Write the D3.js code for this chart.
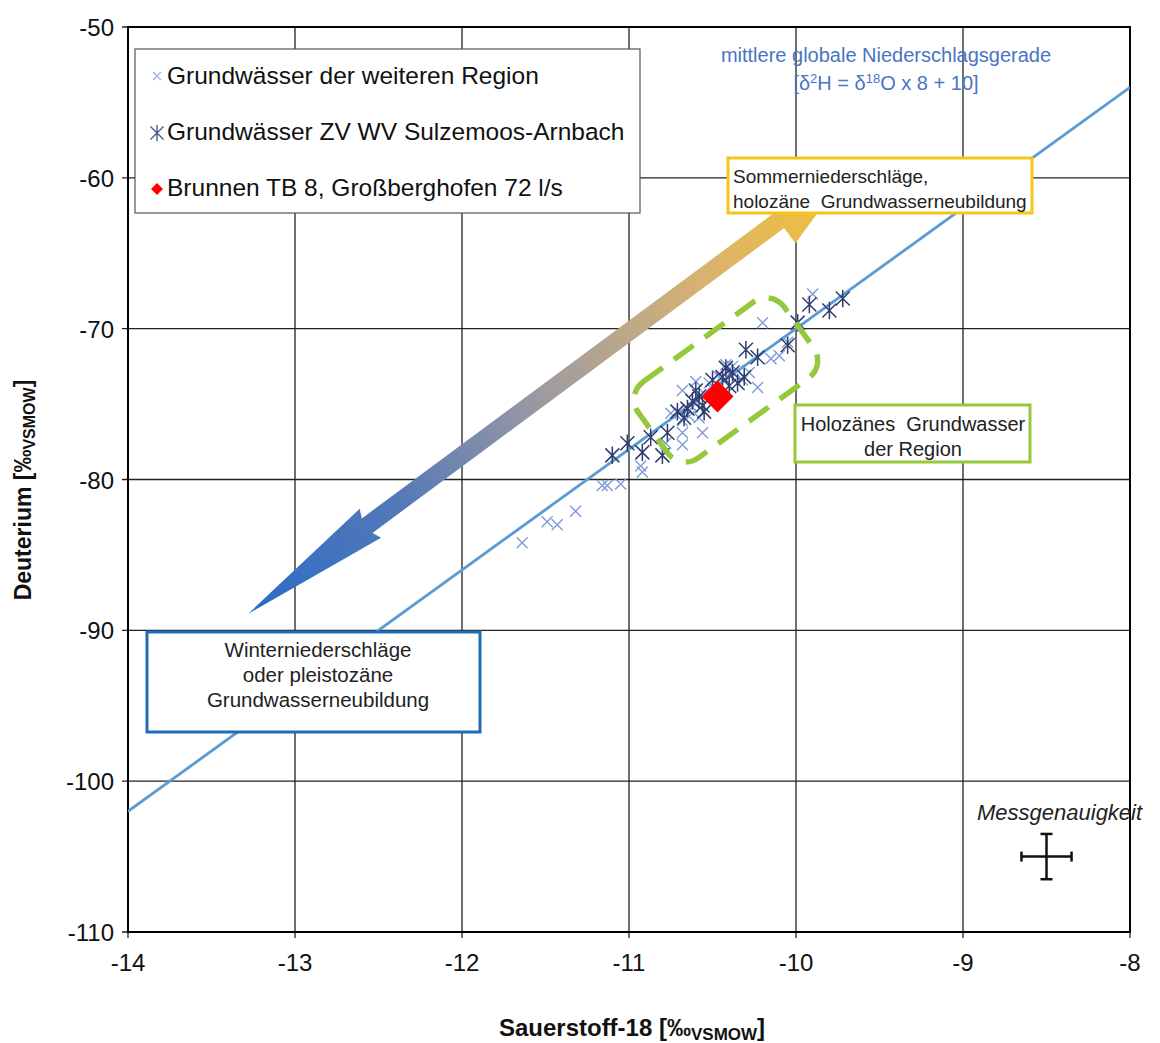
<!DOCTYPE html>
<html>
<head>
<meta charset="utf-8">
<script src="https://cdn.jsdelivr.net/npm/d3@7"></script>
<style>
  body { margin: 0; background: #fff; }
  svg text { font-family: "Liberation Sans", Arial, sans-serif; white-space: pre; }
</style>
</head>
<body>
<svg id="chart" width="1160" height="1043"></svg>
<script>
// axis ticks
const xTicks = [-14, -13, -12, -11, -10, -9, -8];
const yTicks = [-110, -100, -90, -80, -70, -60, -50];

// Grundwässer der weiteren Region  [δ18O, δ2H]
const regionO = [-11.64, -11.49, -11.43, -11.32, -11.16, -11.13, -11.05, -10.93, -10.92, -10.78, -10.68, -10.68, -10.68, -10.56, -10.68, -10.62, -10.55, -10.50, -10.45, -10.40, -10.38, -10.35, -10.32, -10.23, -10.20, -10.15, -10.10, -10.05, -9.90, -10.75, -10.60, -10.64, -10.58, -10.52, -10.42, -10.28, -10.47];
const regionH = [-84.2, -82.8, -83.0, -82.1, -80.4, -80.4, -80.3, -79.1, -79.5, -77.6, -77.7, -76.9, -76.1, -76.9, -74.1, -75.2, -74.3, -74.0, -73.2, -73.0, -72.5, -72.8, -73.4, -73.9, -69.6, -72.0, -71.8, -70.9, -67.7, -75.6, -73.5, -75.8, -75.9, -73.6, -72.4, -72.9, -73.1];

// Grundwässer ZV WV Sulzemoos-Arnbach
const zvO = [-11.10, -11.01, -10.92, -10.87, -10.80, -10.77, -10.71, -10.65, -10.62, -10.60, -10.56, -10.55, -10.50, -10.44, -10.40, -10.38, -10.35, -10.31, -10.30, -10.23, -10.05, -9.99, -9.92, -9.80, -9.72, -10.67, -10.58, -10.42];
const zvH = [-78.4, -77.6, -78.2, -77.2, -78.4, -76.9, -75.5, -75.3, -74.8, -74.1, -75.1, -75.5, -73.4, -73.2, -73.8, -72.9, -73.6, -73.2, -71.4, -71.9, -71.1, -69.6, -68.4, -68.8, -68.0, -75.9, -74.5, -72.6];

// Brunnen TB 8
const wellO = [-10.47];
const wellH = [-74.5];

// global meteoric water line endpoints (δ2H = 8·δ18O + 10)
const mwlO = [-14, -8];
const mwlH = mwlO.map(o => o * 8 + 10);

// double arrow tips [δ18O, δ2H]
const arrowWinter = [-13.28, -88.9];
const arrowSummer = [-9.67, -59.3];

// measurement precision cross
const precisionAt = [-8.5, -105];
const precisionErr = [0.15, 1.5];

// holocene cluster centre
const clusterCentre = [-10.42, -73.4];

const svg = d3.select("#chart");
const x = d3.scaleLinear().domain([-14, -8]).range([128, 1130]);
const y = d3.scaleLinear().domain([-110, -50]).range([932, 27]);

// grid
svg.append("g").selectAll("line").data(xTicks).enter().append("line")
  .attr("x1", d => x(d)).attr("x2", d => x(d))
  .attr("y1", y(-50)).attr("y2", y(-110) + 6)
  .attr("stroke", "#222").attr("stroke-width", 1.3);
svg.append("g").selectAll("line").data(yTicks).enter().append("line")
  .attr("x1", x(-14) - 6).attr("x2", x(-8))
  .attr("y1", d => y(d)).attr("y2", d => y(d))
  .attr("stroke", "#222").attr("stroke-width", 1.3);

svg.append("rect")
  .attr("x", x(-14)).attr("y", y(-50))
  .attr("width", x(-8) - x(-14)).attr("height", y(-110) - y(-50))
  .attr("fill", "none").attr("stroke", "#000").attr("stroke-width", 2);

// tick labels
svg.append("g").selectAll("text").data(xTicks).enter().append("text")
  .attr("x", d => x(d)).attr("y", y(-110) + 39)
  .attr("text-anchor", "middle").attr("font-size", 24).attr("fill", "#111")
  .text(d => d);
svg.append("g").selectAll("text").data(yTicks).enter().append("text")
  .attr("x", x(-14) - 14).attr("y", d => y(d) + 9)
  .attr("text-anchor", "end").attr("font-size", 24).attr("fill", "#111")
  .text(d => d);

// axis titles
const xt = svg.append("text")
  .attr("x", 632).attr("y", 1036)
  .attr("text-anchor", "middle").attr("font-size", 24).attr("font-weight", "bold").attr("fill", "#111");
xt.append("tspan").text("Sauerstoff-18 [‰");
xt.append("tspan").attr("font-size", 17).attr("dy", 4).text("VSMOW");
xt.append("tspan").attr("dy", -4).text("]");

const yt = svg.append("text")
  .attr("transform", "translate(31,490) rotate(-90)")
  .attr("text-anchor", "middle").attr("font-size", 23).attr("font-weight", "bold").attr("fill", "#111");
yt.append("tspan").text("Deuterium [‰");
yt.append("tspan").attr("font-size", 16).attr("dy", 4).text("VSMOW");
yt.append("tspan").attr("dy", -4).text("]");

// clip for plot-area marks
svg.append("clipPath").attr("id", "plotclip").append("rect")
  .attr("x", x(-14)).attr("y", y(-50))
  .attr("width", x(-8) - x(-14)).attr("height", y(-110) - y(-50));

// meteoric water line
svg.append("line")
  .attr("clip-path", "url(#plotclip)")
  .attr("x1", x(mwlO[0])).attr("y1", y(mwlH[0]))
  .attr("x2", x(mwlO[1])).attr("y2", y(mwlH[1]))
  .attr("stroke", "#5b9bd5").attr("stroke-width", 2.8);

// gradient double arrow
const ax0 = x(arrowWinter[0]), ay0 = y(arrowWinter[1]);
const ax1 = x(arrowSummer[0]), ay1 = y(arrowSummer[1]);
const aLen = Math.hypot(ax1 - ax0, ay1 - ay0);
const aAng = Math.atan2(ay1 - ay0, ax1 - ax0) * 180 / Math.PI;
const grad = svg.append("defs").append("linearGradient")
  .attr("id", "arrowgrad").attr("gradientUnits", "userSpaceOnUse")
  .attr("x1", 0).attr("y1", 0).attr("x2", aLen).attr("y2", 0);
[[0, "#2a6cc6"], [0.25, "#5479b8"], [0.5, "#a19c9f"], [0.75, "#d7b272"], [1, "#f8c42a"]]
  .forEach(s => grad.append("stop").attr("offset", s[0]).attr("stop-color", s[1]));
const hb = 152, hwB = 18, sw = 9, ht = 90, hwT = 28;
const arrowPts = [[0, 0], [hb, hwB], [hb - 4, sw], [aLen - ht, sw], [aLen - ht, hwT], [aLen, 0],
  [aLen - ht, -hwT], [aLen - ht, -sw], [hb - 4, -sw], [hb, -hwB]];
svg.append("g").attr("transform", `translate(${ax0},${ay0}) rotate(${aAng})`)
  .append("polygon").attr("points", arrowPts.map(p => p.join(",")).join(" "))
  .attr("fill", "url(#arrowgrad)");

// markers
const xPath = s => `M${-s},${-s}L${s},${s}M${-s},${s}L${s},${-s}`;
const starPath = s => `M${-s},${-s}L${s},${s}M${-s},${s}L${s},${-s}M0,${-s * 1.25}L0,${s * 1.25}`;

svg.append("g").selectAll("path").data(d3.range(regionO.length)).enter().append("path")
  .attr("transform", i => `translate(${x(regionO[i])},${y(regionH[i])})`)
  .attr("d", xPath(5.5)).attr("stroke", "#7f9bd8").attr("stroke-width", 1.4).attr("fill", "none");

svg.append("g").selectAll("path").data(d3.range(zvO.length)).enter().append("path")
  .attr("transform", i => `translate(${x(zvO[i])},${y(zvH[i])})`)
  .attr("d", starPath(7)).attr("stroke", "#2f3d6e").attr("stroke-width", 1.5).attr("fill", "none");

const dia = r => `M0,${-r}L${r},0L0,${r}L${-r},0Z`;
svg.append("g").selectAll("path").data(d3.range(wellO.length)).enter().append("path")
  .attr("transform", i => `translate(${x(wellO[i])},${y(wellH[i])})`)
  .attr("d", dia(16)).attr("fill", "#ff0000");

// dashed holocene cluster outline
const mwlAng = Math.atan2(y(mwlH[1]) - y(mwlH[0]), x(mwlO[1]) - x(mwlO[0])) * 180 / Math.PI;
svg.append("rect")
  .attr("transform", `translate(${x(clusterCentre[0])},${y(clusterCentre[1])}) rotate(${mwlAng})`)
  .attr("x", -90).attr("y", -47).attr("width", 180).attr("height", 94)
  .attr("rx", 22).attr("ry", 22)
  .attr("fill", "none").attr("stroke", "#95c93d").attr("stroke-width", 5.5)
  .attr("stroke-dasharray", "24 14");

// labelled boxes
function box(x0, y0, w, h, col, lines, anchor, tx, ty, lh, fs) {
  svg.append("rect").attr("x", x0).attr("y", y0).attr("width", w).attr("height", h)
    .attr("fill", "#fff").attr("stroke", col).attr("stroke-width", 3);
  const t = svg.append("text").attr("font-size", fs).attr("fill", "#222").attr("text-anchor", anchor);
  lines.forEach((l, i) => t.append("tspan").attr("x", tx).attr("y", ty + i * lh).text(l));
}
box(728, 158, 304, 55, "#f5c518", ["Sommerniederschläge,", "holozäne  Grundwasserneubildung"], "start", 733, 183, 25, 19);
box(795, 405, 235, 57, "#95c93d", ["Holozänes  Grundwasser", "der Region"], "middle", 913, 431, 25, 20);
box(147, 632, 333, 100, "#1f6db5", ["Winterniederschläge", "oder pleistozäne", "Grundwasserneubildung"], "middle", 318, 657, 25, 20.5);

// MWL label
const ml = svg.append("text").attr("text-anchor", "middle").attr("font-size", 20).attr("fill", "#4a74c4");
ml.append("tspan").attr("x", 886).attr("y", 62).text("mittlere globale Niederschlagsgerade");
const ml2 = ml.append("tspan").attr("x", 886).attr("y", 90);
ml2.text("[δ");
ml2.append("tspan").attr("font-size", 13).attr("dy", -7).text("2");
ml2.append("tspan").attr("dy", 7).text("H = δ");
ml2.append("tspan").attr("font-size", 13).attr("dy", -7).text("18");
ml2.append("tspan").attr("dy", 7).text("O x 8 + 10]");

// measurement precision
svg.append("text").attr("x", 977).attr("y", 820).attr("font-size", 22).attr("font-style", "italic")
  .attr("fill", "#222").text("Messgenauigkeit");
const px = x(precisionAt[0]), py = y(precisionAt[1]);
const pxl = x(precisionAt[0] - precisionErr[0]), pxr = x(precisionAt[0] + precisionErr[0]);
const pyt = y(precisionAt[1] + precisionErr[1]), pyb = y(precisionAt[1] - precisionErr[1]);
const pc = svg.append("g").attr("stroke", "#111").attr("stroke-width", 2.5);
pc.append("line").attr("x1", pxl).attr("x2", pxr).attr("y1", py).attr("y2", py);
pc.append("line").attr("x1", px).attr("x2", px).attr("y1", pyt).attr("y2", pyb);
pc.append("line").attr("x1", pxl).attr("x2", pxl).attr("y1", py - 5).attr("y2", py + 5);
pc.append("line").attr("x1", pxr).attr("x2", pxr).attr("y1", py - 5).attr("y2", py + 5);
pc.append("line").attr("x1", px - 6).attr("x2", px + 6).attr("y1", pyt).attr("y2", pyt);
pc.append("line").attr("x1", px - 6).attr("x2", px + 6).attr("y1", pyb).attr("y2", pyb);

// legend
const lg = svg.append("g");
lg.append("rect").attr("x", 135).attr("y", 49).attr("width", 505).attr("height", 164)
  .attr("fill", "#fff").attr("stroke", "#555").attr("stroke-width", 1.2);
const legItems = ["Grundwässer der weiteren Region", "Grundwässer ZV WV Sulzemoos-Arnbach", "Brunnen TB 8, Großberghofen 72 l/s"];
legItems.forEach((t, i) => {
  const cy = 75 + i * 56;
  if (i === 0) lg.append("path").attr("transform", `translate(157,${cy + 1})`).attr("d", xPath(4)).attr("stroke", "#9fb3e0").attr("stroke-width", 1.3);
  if (i === 1) lg.append("path").attr("transform", `translate(157,${cy + 2})`).attr("d", starPath(6.5)).attr("stroke", "#4a5a90").attr("stroke-width", 1.4);
  if (i === 2) lg.append("path").attr("transform", `translate(157,${cy + 2})`).attr("d", dia(6)).attr("fill", "#ff0000");
  lg.append("text").attr("x", 167).attr("y", cy + 9).attr("font-size", 24.5).attr("fill", "#111").text(t);
});
</script>
</body>
</html>
